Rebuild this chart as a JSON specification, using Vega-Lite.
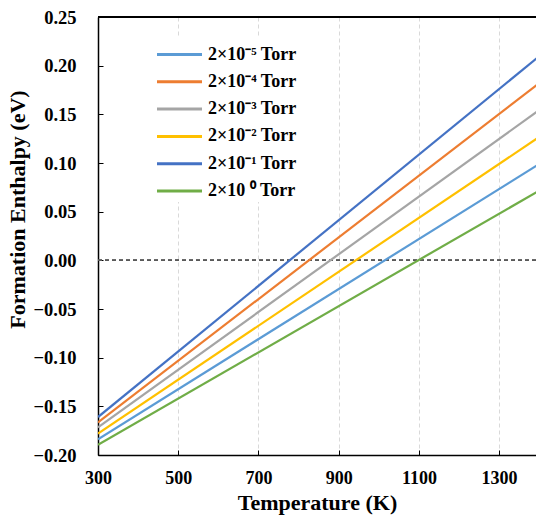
{
  "$schema": "https://vega.github.io/schema/vega-lite/v6.json",
  "width": 438,
  "height": 438,
  "autosize": {"type": "none"},
  "padding": {"left": 98, "top": 17, "right": 0, "bottom": 61},
  "background": "white",
  "config": {
    "view": {"stroke": null},
    "axis": {
      "labelFont": "Liberation Serif",
      "titleFont": "Liberation Serif",
      "labelFontWeight": "bold",
      "labelColor": "black",
      "titleFontWeight": "bold",
      "titleFontSize": 22,
      "titleColor": "black",
      "domainColor": "black",
      "domainWidth": 1.5,
      "tickColor": "black",
      "tickWidth": 1,
      "gridColor": "#d9d9d9",
      "gridDash": [4, 3],
      "gridWidth": 1,
      "labelFlush": false
    }
  },
  "data": {
    "values": [
      {"T": 300, "H": -0.1838, "p": "2×10⁻⁵ Torr"},
      {"T": 1400, "H": 0.0990, "p": "2×10⁻⁵ Torr"},
      {"T": 300, "H": -0.1666, "p": "2×10⁻⁴ Torr"},
      {"T": 1400, "H": 0.1820, "p": "2×10⁻⁴ Torr"},
      {"T": 300, "H": -0.1717, "p": "2×10⁻³ Torr"},
      {"T": 1400, "H": 0.1544, "p": "2×10⁻³ Torr"},
      {"T": 300, "H": -0.1780, "p": "2×10⁻² Torr"},
      {"T": 1400, "H": 0.1267, "p": "2×10⁻² Torr"},
      {"T": 300, "H": -0.1610, "p": "2×10⁻¹ Torr"},
      {"T": 1400, "H": 0.2097, "p": "2×10⁻¹ Torr"},
      {"T": 300, "H": -0.1895, "p": "2×10 ⁰ Torr"},
      {"T": 1400, "H": 0.0716, "p": "2×10 ⁰ Torr"}
    ]
  },
  "layer": [
    {
      "mark": {"type": "rule", "color": "#595959", "strokeDash": [4, 3], "strokeWidth": 1},
      "encoding": {"y": {"datum": 0}}
    },
    {
      "mark": {"type": "rule", "color": "black", "strokeWidth": 1.5},
      "encoding": {"y": {"datum": 0.25}}
    },
    {
      "mark": {"type": "line", "strokeWidth": 2.2, "clip": true},
      "encoding": {
        "x": {
          "field": "T",
          "type": "quantitative",
          "scale": {"domain": [300, 1392], "nice": false, "zero": false},
          "axis": {
            "title": "Temperature (K)",
            "labelFontSize": 18,
            "values": [300, 500, 700, 900, 1100, 1300],
            "format": "d",
            "tickSize": -5,
            "labelPadding": 19,
            "titlePadding": 5
          }
        },
        "y": {
          "field": "H",
          "type": "quantitative",
          "scale": {"domain": [-0.2, 0.25], "nice": false, "zero": false},
          "axis": {
            "title": "Formation Enthalpy (eV)",
            "labelFontSize": 18.5,
            "titleY": 192,
            "values": [-0.2, -0.15, -0.1, -0.05, 0, 0.05, 0.1, 0.15, 0.2, 0.25],
            "format": ".2f",
            "tickSize": -5,
            "labelPadding": 27,
            "titlePadding": 4
          }
        },
        "color": {
          "field": "p",
          "type": "nominal",
          "sort": ["2×10⁻⁵ Torr", "2×10⁻⁴ Torr", "2×10⁻³ Torr", "2×10⁻² Torr", "2×10⁻¹ Torr", "2×10 ⁰ Torr"],
          "scale": {
            "domain": ["2×10⁻⁵ Torr", "2×10⁻⁴ Torr", "2×10⁻³ Torr", "2×10⁻² Torr", "2×10⁻¹ Torr", "2×10 ⁰ Torr"],
            "range": ["#5B9BD5", "#ED7D31", "#A5A5A5", "#FFC000", "#4472C4", "#70AD47"]
          },
          "legend": {
            "title": null,
            "orient": "none",
            "legendX": 63,
            "legendY": 19,
            "symbolType": "M-1.5,0H1.5",
            "symbolSize": 900,
            "symbolStrokeWidth": 3,
            "labelFont": "Liberation Serif",
            "labelFontWeight": "bold",
            "labelFontSize": 18,
            "labelColor": "black",
            "labelOffset": 12,
            "rowPadding": 1.3,
            "fillColor": "white",
            "padding": 2
          }
        }
      }
    }
  ]
}
